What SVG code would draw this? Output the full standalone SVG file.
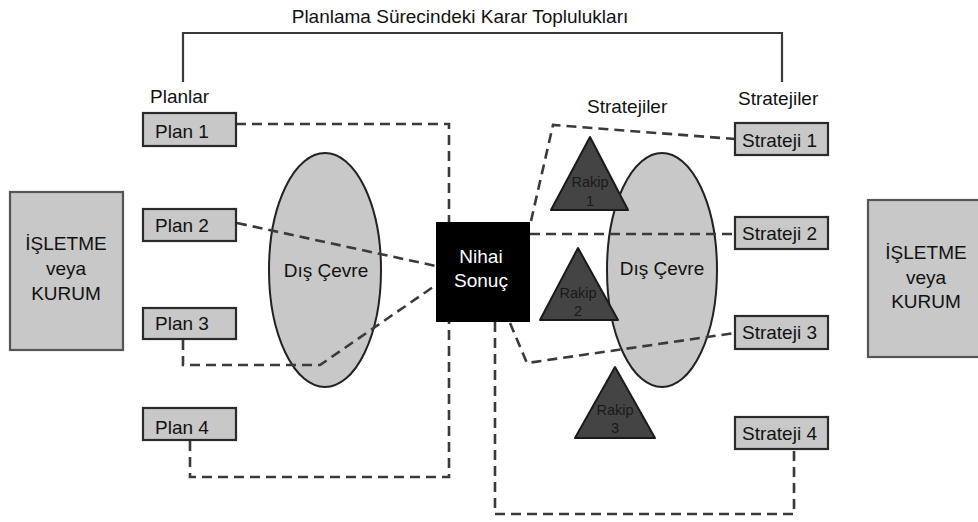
<svg xmlns="http://www.w3.org/2000/svg" width="978" height="522" viewBox="0 0 978 522">
<style>
text{font-family:"Liberation Sans",Arial,sans-serif;font-size:19px;fill:#111}
.box{fill:#c8c8c8;stroke:#2a2a2a;stroke-width:2.2}
.org{fill:#c8c8c8;stroke:#555;stroke-width:2.2}
.ell{fill:#c8c8c8;stroke:#222;stroke-width:2}
.tri{fill:#444;stroke:#1a1a1a;stroke-width:2;stroke-linejoin:round}
.tt{font-size:14.5px;fill:#1a1a1a;text-anchor:middle}
.c{text-anchor:middle}
.dash{fill:none;stroke:#3a3a3a;stroke-width:2.6;stroke-dasharray:10 6}
.solid{fill:none;stroke:#3a3a3a;stroke-width:2.2}
</style>
<rect width="978" height="522" fill="#fff"/>
<g id="title">
<text x="460" y="23" class="c">Planlama Sürecindeki Karar Toplulukları</text>
<polyline class="solid" points="183,82 183,33 782,33 782,82"/>
</g>
<text x="150" y="103">Planlar</text>
<text x="738" y="105">Stratejiler</text>
<text x="587" y="113">Stratejiler</text>
<g id="org-left"><rect class="org" x="10" y="192" width="113" height="158"/>
<text x="66" y="250" class="c">İŞLETME</text><text x="66" y="275" class="c">veya</text><text x="66" y="300" class="c">KURUM</text></g>
<g id="org-right"><rect class="org" x="868" y="200" width="115" height="157"/>
<text x="926" y="259" class="c">İŞLETME</text><text x="926" y="284" class="c">veya</text><text x="926" y="308" class="c">KURUM</text></g>
<g id="env-left"><ellipse class="ell" cx="325" cy="270" rx="56" ry="117"/><text x="326" y="277" class="c">Dış Çevre</text></g>
<g id="env-right"><ellipse class="ell" cx="662" cy="270" rx="55" ry="117"/><text x="662" y="275" class="c">Dış Çevre</text></g>
<g id="rakip1"><polygon class="tri" points="590,137 628,210 551,210"/><text x="590" y="187" class="tt">Rakip</text><text x="590" y="206" class="tt">1</text></g>
<g id="rakip2"><polygon class="tri" points="578,248 618,320 540,320"/><text x="578" y="298" class="tt">Rakip</text><text x="578" y="316" class="tt">2</text></g>
<g id="rakip3"><polygon class="tri" points="615,367 655,438 575,438"/><text x="615" y="415" class="tt">Rakip</text><text x="615" y="433" class="tt">3</text></g>
<g id="connectors">
<polyline class="dash" points="236,124 449,124 449,222"/>
<polyline class="dash" points="237,223 436,266"/>
<polyline class="dash" points="183,340 183,365 320,365 436,285"/>
<polyline class="dash" points="190,441 190,477 449,477 449,322"/>
<polyline class="dash" points="531,221 553,125 735,139"/>
<polyline class="dash" points="530,234 735,234"/>
<polyline class="dash" points="510,323 527,363 735,333"/>
<polyline class="dash" points="495,322 495,514 794,514 794,449"/>
</g>
<g id="nihai"><rect x="436" y="222" width="94" height="100" fill="#000"/>
<text x="481" y="263" class="c" style="fill:#fff">Nihai</text><text x="481" y="287" class="c" style="fill:#fff">Sonuç</text></g>
<g id="plan1"><rect class="box" x="143" y="113" width="93" height="33"/><text x="155" y="138">Plan 1</text></g>
<g id="plan2"><rect class="box" x="143" y="209" width="93" height="32"/><text x="155" y="232">Plan 2</text></g>
<g id="plan3"><rect class="box" x="143" y="308" width="93" height="31"/><text x="155" y="330">Plan 3</text></g>
<g id="plan4"><rect class="box" x="143" y="408" width="93" height="32"/><text x="155" y="434">Plan 4</text></g>
<g id="strateji1"><rect class="box" x="735" y="123" width="93" height="32"/><text x="742" y="147">Strateji 1</text></g>
<g id="strateji2"><rect class="box" x="735" y="217" width="93" height="32"/><text x="742" y="240">Strateji 2</text></g>
<g id="strateji3"><rect class="box" x="735" y="316" width="93" height="33"/><text x="742" y="339">Strateji 3</text></g>
<g id="strateji4"><rect class="box" x="735" y="417" width="93" height="32"/><text x="742" y="440">Strateji 4</text></g>
</svg>
